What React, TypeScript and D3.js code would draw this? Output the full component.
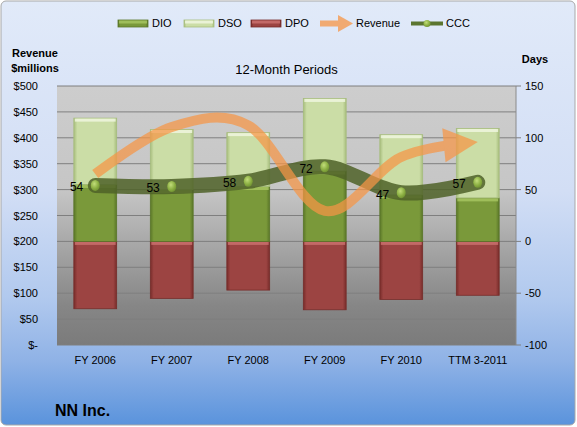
import * as d3 from "d3";

// chart data (days for DIO/DSO/DPO/CCC, $ millions for revenue)
const CATEGORIES = ["FY 2006", "FY 2007", "FY 2008", "FY 2009", "FY 2010", "TTM 3-2011"];
const DIO = [55, 50, 53, 68, 45, 42];
const DSO = [64, 58, 52, 70, 58, 67];
const DPO = [65, 55, 47, 66, 56, 52];
const CCC = [54, 53, 58, 72, 47, 57];
const REVENUE = [330, 421, 424, 259, 363, 392];
const REVENUE_TICKS = [0, 50, 100, 150, 200, 250, 300, 350, 400, 450, 500];
const DAYS_TICKS = [-100, -50, 0, 50, 100, 150];

const W = 577;
const H = 427;
const margin = { top: 86, right: 61, bottom: 82, left: 57 };
const FONT = "'Liberation Sans', Arial, sans-serif";

const FILLS = {
  dio: { base: "#7a993a", edge: "#5a7628", hi: "#a9c763" },
  dso: { base: "#cbdda6", edge: "#a7bd7d", hi: "#f1f7e2" },
  dpo: { base: "#9c4442", edge: "#772c2a", hi: "#cd7370" },
};

function Seg({ x, y, w, h, kind }: { x: number; y: number; w: number; h: number; kind: keyof typeof FILLS }) {
  const c = FILLS[kind];
  return (
    <g>
      <rect x={x} y={y} width={w} height={h} fill={`url(#g-${kind})`} stroke={c.edge} strokeWidth={0.8} />
      <rect x={x + 1} y={y + 0.5} width={w - 2} height={Math.min(3, h)} fill={c.hi} opacity={0.8} />
    </g>
  );
}

export default function App() {
  const x0 = margin.left;
  const x1 = W - margin.right;
  const y0 = margin.top;
  const y1 = H - margin.bottom;

  const x = d3.scaleBand<string>().domain(CATEGORIES).range([x0, x1]).paddingInner(0.44).paddingOuter(0.22);
  const yDays = d3.scaleLinear().domain([-100, 150]).range([y1, y0]);
  const yRev = d3.scaleLinear().domain([0, 500]).range([y1, y0]);
  const cx = (c: string) => (x(c) ?? 0) + x.bandwidth() / 2;
  const bw = x.bandwidth();

  const smooth = d3.curveCardinal.tension(0);
  const revPts: [number, number][] = CATEGORIES.map((c, i) => [cx(c), yRev(REVENUE[i])]);
  const cccPts: [number, number][] = CATEGORIES.map((c, i) => [cx(c), yDays(CCC[i])]);
  const line = d3.line().curve(smooth);

  // arrow head at revenue end
  const n = revPts.length - 1;
  const tip = revPts[n];
  const prev = revPts[n - 1];
  const ang = Math.atan2(tip[1] - prev[1], tip[0] - prev[0]) * 0.5;
  const headLen = 34;
  const headHalf = 17;
  const base = [tip[0] - headLen * Math.cos(ang), tip[1] - headLen * Math.sin(ang)];
  const nx = -Math.sin(ang);
  const ny = Math.cos(ang);
  const head = [
    [tip[0], tip[1]],
    [base[0] + nx * headHalf, base[1] + ny * headHalf],
    [base[0] - nx * headHalf, base[1] - ny * headHalf],
  ];

  const fmtRev = (v: number) => (v === 0 ? "$-" : `$${v}`);

  return (
    <svg width={W} height={H} style={{ position: "absolute", left: 0, top: 0 }} fontFamily={FONT}>
      <defs>
        <linearGradient id="bg" x1="0" y1="0" x2="0" y2="1">
          <stop offset="0" stopColor="#e1eaf9" />
          <stop offset="0.45" stopColor="#d2def5" />
          <stop offset="0.7" stopColor="#b1c9ee" />
          <stop offset="0.85" stopColor="#8fb2e6" />
          <stop offset="1" stopColor="#5a93dc" />
        </linearGradient>
        <linearGradient id="plotbg" x1="0" y1="0" x2="0" y2="1">
          <stop offset="0" stopColor="#cdcdcd" />
          <stop offset="0.4" stopColor="#c6c6c6" />
          <stop offset="0.6" stopColor="#a9a9a9" />
          <stop offset="0.85" stopColor="#868686" />
          <stop offset="1" stopColor="#7b7b7b" />
        </linearGradient>
        {(Object.keys(FILLS) as (keyof typeof FILLS)[]).map((k) => (
          <linearGradient key={k} id={`g-${k}`} x1="0" y1="0" x2="1" y2="0">
            <stop offset="0" stopColor={FILLS[k].edge} />
            <stop offset="0.08" stopColor={FILLS[k].base} />
            <stop offset="0.92" stopColor={FILLS[k].base} />
            <stop offset="1" stopColor={FILLS[k].edge} />
          </linearGradient>
        ))}
        <radialGradient id="dot" cx="0.4" cy="0.35" r="0.7">
          <stop offset="0" stopColor="#c2dd7a" />
          <stop offset="0.6" stopColor="#8cb043" />
          <stop offset="1" stopColor="#6e8f30" />
        </radialGradient>
        <clipPath id="revclip">
          <rect x={0} y={0} width={base[0] + 8} height={H} />
        </clipPath>
      </defs>

      <rect x={1} y={1} width={W - 3} height={H - 3} rx={5} fill="url(#bg)" stroke="#a8a8a8" />

      {/* legend */}
      <g fontSize={11} fill="#000">
        <Seg x={118} y={20} w={30} h={7} kind="dio" />
        <text x={152} y={27}>DIO</text>
        <Seg x={184} y={20} w={30} h={7} kind="dso" />
        <text x={218} y={27}>DSO</text>
        <Seg x={251} y={20} w={30} h={7} kind="dpo" />
        <text x={285} y={27}>DPO</text>
        <g opacity={0.75} fill="#f79646">
          <rect x={320} y={20.5} width={20} height={6} />
          <polygon points="338,15 353,23.5 338,32" />
        </g>
        <text x={356} y={27}>Revenue</text>
        <line x1={411} x2={443} y1={23.5} y2={23.5} stroke="#5b7530" strokeWidth={4} />
        <circle cx={427} cy={23.5} r={3.5} fill="url(#dot)" />
        <text x={446} y={27}>CCC</text>
      </g>

      {/* axis titles */}
      <g fontSize={11} fontWeight="bold" fill="#000" textAnchor="middle">
        <text x={35} y={57}>Revenue</text>
        <text x={35} y={72}>$millions</text>
        <text x={535} y={63}>Days</text>
      </g>
      <text x={(x0 + x1) / 2} y={74} fontSize={13} textAnchor="middle" fill="#000">
        12-Month Periods
      </text>

      {/* plot area */}
      <rect x={x0} y={y0} width={x1 - x0} height={y1 - y0} fill="url(#plotbg)" />
      {REVENUE_TICKS.map((t) => (
        <line key={t} x1={x0} x2={x1} y1={yRev(t)} y2={yRev(t)} stroke="#7f7f7f" strokeWidth={1} />
      ))}
      <line x1={x1} x2={x1} y1={y0} y2={y1} stroke="#8a8a8a" />

      {/* left axis */}
      <g fontSize={11} fill="#000" textAnchor="end">
        {REVENUE_TICKS.map((t) => (
          <text key={t} x={38} y={yRev(t) + 4}>
            {fmtRev(t)}
          </text>
        ))}
      </g>
      {/* right axis */}
      <g fontSize={11} fill="#000">
        {DAYS_TICKS.map((t) => (
          <g key={t}>
            <line x1={x1} x2={x1 + 5} y1={yDays(t)} y2={yDays(t)} stroke="#7f7f7f" />
            <text x={525} y={yDays(t) + 4}>
              {t}
            </text>
          </g>
        ))}
      </g>
      {/* categories */}
      <g fontSize={11} fill="#000" textAnchor="middle">
        {CATEGORIES.map((c) => (
          <text key={c} x={cx(c)} y={364}>
            {c}
          </text>
        ))}
      </g>

      {/* stacked bars */}
      {CATEGORIES.map((c, i) => {
        const bx = x(c) ?? 0;
        return (
          <g key={c}>
            <Seg x={bx} y={yDays(0)} w={bw} h={yDays(-DPO[i]) - yDays(0)} kind="dpo" />
            <Seg x={bx} y={yDays(DIO[i])} w={bw} h={yDays(0) - yDays(DIO[i])} kind="dio" />
            <Seg x={bx} y={yDays(DIO[i] + DSO[i])} w={bw} h={yDays(DIO[i]) - yDays(DIO[i] + DSO[i])} kind="dso" />
          </g>
        );
      })}

      {/* CCC line */}
      <path
        d={line(cccPts) ?? ""}
        fill="none"
        stroke="#4f6228"
        strokeWidth={15}
        strokeLinecap="round"
        strokeLinejoin="round"
        opacity={0.85}
      />

      {/* revenue arrow */}
      <g opacity={0.72} fill="#f79646">
        <path
          d={line(revPts) ?? ""}
          fill="none"
          stroke="#f79646"
          strokeWidth={10}
          strokeLinecap="butt"
          clipPath="url(#revclip)"
        />
        <polygon points={head.map((p) => p.join(",")).join(" ")} />
      </g>

      {/* CCC markers and labels */}
      {cccPts.map(([px, py], i) => (
        <g key={i}>
          <ellipse cx={px} cy={py} rx={4.5} ry={5.5} fill="url(#dot)" />
          <text x={px - 12} y={py + 6} fontSize={12} textAnchor="end" fill="#000">
            {CCC[i]}
          </text>
        </g>
      ))}

      <text x={55} y={416} fontSize={16} fontWeight="bold" fill="#000">
        NN Inc.
      </text>
    </svg>
  );
}
